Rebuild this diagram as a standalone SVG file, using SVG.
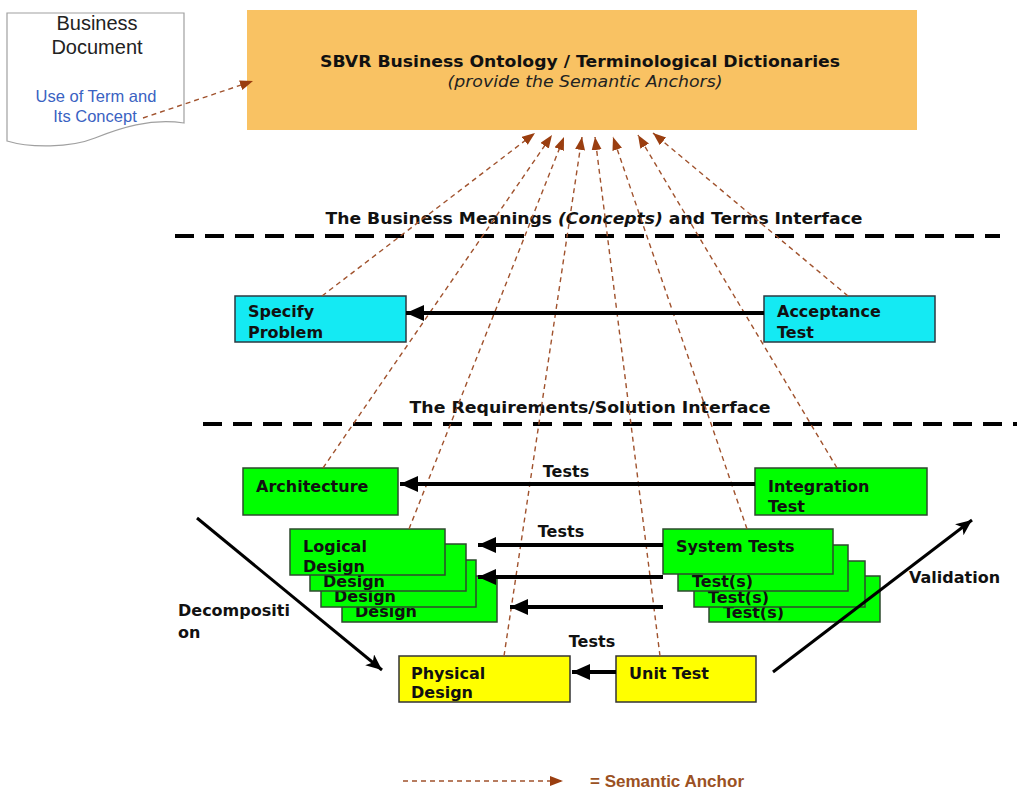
<svg xmlns="http://www.w3.org/2000/svg" width="1017" height="789" viewBox="0 0 1017 789">
<defs>
<style>
.b{font-family:"DejaVu Sans",Verdana,sans-serif;font-weight:bold;font-size:16px;fill:#111}
.t{font-family:"DejaVu Sans",Verdana,sans-serif;font-weight:bold;font-size:15px;fill:#111}
.a{font-family:"Liberation Sans",Arial,sans-serif}
.anc{fill:none;stroke:#A0522D;stroke-width:1.4;stroke-dasharray:5 4;marker-end:url(#ah)}
.blk{fill:none;stroke:#000;stroke-width:4;marker-end:url(#bh)}
.dir{fill:none;stroke:#000;stroke-width:3;marker-end:url(#dh)}
.iface{fill:none;stroke:#000;stroke-width:4;stroke-dasharray:19 11}
.cy{fill:#14EAF3;stroke:#2B3A42;stroke-width:1.5}
.gr{fill:#00FF00;stroke:#2E4A2E;stroke-width:1.5}
.ye{fill:#FFFF00;stroke:#333;stroke-width:1.5}
</style>
<marker id="ah" markerUnits="userSpaceOnUse" markerWidth="14" markerHeight="12" refX="13" refY="5" orient="auto"><path d="M0,0 L13,5 L0,10 Z" fill="#9A3E10"/></marker>
<marker id="bh" markerUnits="userSpaceOnUse" markerWidth="20" markerHeight="18" refX="18" refY="8" orient="auto"><path d="M0,0 L18,8 L0,16 Z" fill="#000"/></marker>
<marker id="dh" markerUnits="userSpaceOnUse" markerWidth="18" markerHeight="16" refX="16" refY="7" orient="auto"><path d="M0,0 L16,7 L0,14 L4,7 Z" fill="#000"/></marker>
</defs>
<rect width="1017" height="789" fill="#fff"/>

<g id="business-document">
<path d="M7,13 H184 V123 C150,118 120,128 95,138 C70,148 30,148 7,141 Z" fill="#fff" stroke="#A0A0A0" stroke-width="1.2"/>
<text class="a" x="97" y="30" font-size="20" text-anchor="middle" fill="#222">Business</text>
<text class="a" x="97" y="54" font-size="20" text-anchor="middle" fill="#222">Document</text>
<text class="a" x="96" y="102" font-size="16.5" text-anchor="middle" fill="#3A62C2">Use of Term  and</text>
<text class="a" x="95" y="122" font-size="16.5" text-anchor="middle" fill="#3A62C2">Its Concept</text>
</g>

<g id="sbvr-ontology">
<rect x="247" y="10" width="670" height="120" fill="#F9C263"/>
<text class="t" x="580" y="67" text-anchor="middle" textLength="520" lengthAdjust="spacingAndGlyphs">SBVR Business Ontology / Terminological  Dictionaries</text>
<text x="585" y="87" text-anchor="middle" font-family="DejaVu Sans,Verdana,sans-serif" font-style="italic" font-size="15" fill="#222" textLength="275" lengthAdjust="spacingAndGlyphs">(provide the Semantic Anchors)</text>
</g>

<g id="interfaces">
<text class="t" x="594" y="224" text-anchor="middle" textLength="537" lengthAdjust="spacingAndGlyphs">The Business Meanings <tspan font-style="italic">(Concepts)</tspan> and Terms Interface</text>
<line class="iface" x1="175" y1="236" x2="1000" y2="236"/>
<text class="t" x="590" y="413" text-anchor="middle" textLength="361" lengthAdjust="spacingAndGlyphs">The Requirements/Solution  Interface</text>
<line class="iface" x1="203" y1="424" x2="1017" y2="424"/>
</g>

<g id="specify-problem">
<rect class="cy" x="235" y="296" width="171" height="46"/>
<text class="b" x="248" y="317">Specify</text>
<text class="b" x="248" y="338">Problem</text>
</g>
<g id="acceptance-test">
<rect class="cy" x="764" y="296" width="171" height="46"/>
<text class="b" x="777" y="317">Acceptance</text>
<text class="b" x="777" y="338">Test</text>
</g>

<g id="architecture">
<rect class="gr" x="243" y="468" width="155" height="47"/>
<text class="b" x="256" y="492">Architecture</text>
</g>
<g id="integration-test">
<rect class="gr" x="755" y="468" width="172" height="47"/>
<text class="b" x="768" y="492">Integration</text>
<text class="b" x="768" y="512">Test</text>
</g>

<g id="logical-design">
<rect class="gr" x="342" y="576" width="155" height="46"/>
<text class="b" x="355" y="617">Design</text>
<rect class="gr" x="321" y="560" width="155" height="47"/>
<text class="b" x="334" y="602">Design</text>
<rect class="gr" x="310" y="544" width="156" height="47"/>
<text class="b" x="323" y="587">Design</text>
<rect class="gr" x="290" y="529" width="155" height="46"/>
<text class="b" x="303" y="552">Logical</text>
<text class="b" x="303" y="572">Design</text>
</g>

<g id="system-tests">
<rect class="gr" x="709" y="576" width="171" height="46"/>
<text class="b" x="723" y="618">Test(s)</text>
<rect class="gr" x="694" y="561" width="171" height="46"/>
<text class="b" x="708" y="603">Test(s)</text>
<rect class="gr" x="678" y="545" width="170" height="46"/>
<text class="b" x="692" y="587">Test(s)</text>
<rect class="gr" x="663" y="529" width="170" height="45"/>
<text class="b" x="676" y="552">System Tests</text>
</g>

<g id="physical-design">
<rect class="ye" x="399" y="656" width="171" height="46"/>
<text class="b" x="411" y="679">Physical</text>
<text class="b" x="411" y="698">Design</text>
</g>
<g id="unit-test">
<rect class="ye" x="616" y="656" width="140" height="46"/>
<text class="b" x="629" y="679">Unit Test</text>
</g>

<g id="connectors">
<path class="anc" d="M143,118 L253,81"/>
<path class="anc" d="M322,296 L535,133"/>
<path class="anc" d="M323,468 L552,135"/>
<path class="anc" d="M409,529 L564,137"/>
<path class="anc" d="M504,656 L582,137"/>
<path class="anc" d="M660,656 L595,137"/>
<path class="anc" d="M747,529 L613,137"/>
<path class="anc" d="M837,468 L638,135"/>
<path class="anc" d="M848,296 L653,133"/>
<path class="blk" d="M764,313 L406,313"/>
<path class="blk" d="M755,484 L400,484"/>
<path class="blk" d="M663,545 L478,545"/>
<path class="blk" d="M663,577 L478,577"/>
<path class="blk" d="M663,607 L510,607"/>
<path class="blk" d="M616,672 L572,672"/>
<path class="dir" d="M197,518 L382,670"/>
<path class="dir" d="M773,672 L972,520"/>
<text class="b" x="566" y="477" text-anchor="middle">Tests</text>
<text class="b" x="561" y="537" text-anchor="middle">Tests</text>
<text class="b" x="592" y="647" text-anchor="middle">Tests</text>
<text class="b" x="178" y="616">Decompositi</text>
<text class="b" x="178" y="638">on</text>
<text class="b" x="909" y="583">Validation</text>
</g>

<g id="legend">
<path class="anc" d="M403,781 L563,781"/>
<text class="a" x="590" y="787" font-size="16" font-weight="bold" fill="#9B5123" textLength="154" lengthAdjust="spacingAndGlyphs">= Semantic Anchor</text>
</g>
</svg>
